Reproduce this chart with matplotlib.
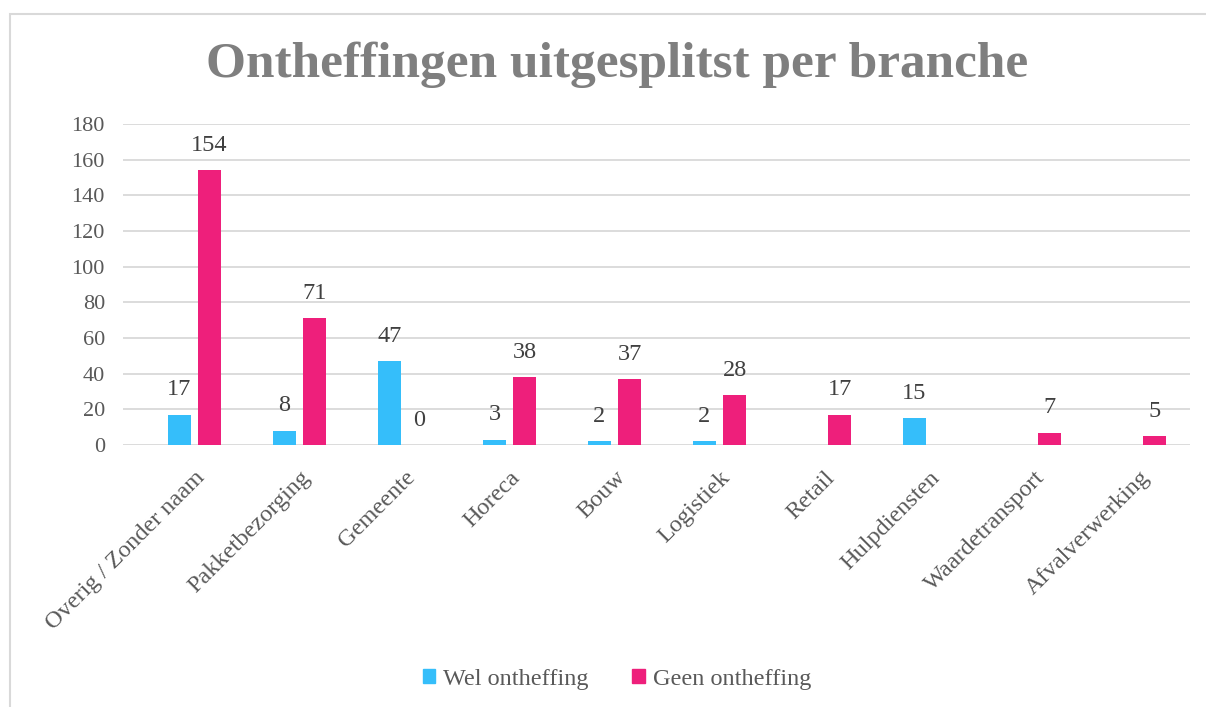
import numpy as np
import matplotlib
matplotlib.use("Agg")
import matplotlib.pyplot as plt
from matplotlib.patches import Rectangle

categories = ["Overig / Zonder naam", "Pakketbezorging", "Gemeente", "Horeca", "Bouw",
              "Logistiek", "Retail", "Hulpdiensten", "Waardetransport", "Afvalverwerking"]
# None = no bar and no label in the original
wel = [17, 8, 47, 3, 2, 2, None, 15, None, None]
geen = [154, 71, 0, 38, 37, 28, 17, None, 7, 5]
yticks = [0, 20, 40, 60, 80, 100, 120, 140, 160, 180]

blue = "#35BEFA"
pink = "#EE1F7B"
txt = "#595959"

plt.rcParams["font.family"] = ["Liberation Serif", "DejaVu Serif"]

fig = plt.figure(figsize=(12.06, 7.07), dpi=100)
fig.patches.append(Rectangle((10 / 1206, -0.01), 1.02, (707 - 14) / 707 + 0.01,
                             transform=fig.transFigure, fill=False,
                             edgecolor="#d9d9d9", lw=1.5))
ax = fig.add_axes([123 / 1206, 262 / 707, 1067 / 1206, 321 / 707])

x = np.arange(len(categories))
w = 0.22
off = 0.143
for vals, dx, col in [(wel, -off, blue), (geen, off, pink)]:
    for xi, v in zip(x, vals):
        if v is None:
            continue
        ax.bar(xi + dx, v, width=w, color=col, zorder=3)
        ax.text(xi + dx, v + 8, str(v), ha="center", va="bottom",
                fontsize=17.5, color="#404040", zorder=4)

ax.set_ylim(0, 180)
ax.set_xlim(-0.68, 9.48)
ax.set_yticks(yticks)
ax.tick_params(axis="y", length=0, labelsize=16, labelcolor=txt, pad=13)
ax.set_xticks(x)
ax.set_xticklabels(categories, rotation=45, ha="right", rotation_mode="anchor",
                   fontsize=17.5, color=txt)
ax.tick_params(axis="x", length=0, pad=16)
ax.grid(axis="y", color="#d9d9d9", lw=1.3, zorder=0)
for s in ax.spines.values():
    s.set_visible(False)

fig.text(617 / 1206, 1 - 65 / 707, "Ontheffingen uitgesplitst per branche",
         ha="center", va="center", fontsize=37, fontweight="bold", color="#7f7f7f")

handles = [Rectangle((0, 0), 1, 1, color=blue), Rectangle((0, 0), 1, 1, color=pink)]
fig.legend(handles, ["Wel ontheffing", "Geen ontheffing"], loc="center",
           bbox_to_anchor=(617 / 1206, 1 - 679 / 707), ncol=2, frameon=False,
           fontsize=17.5, labelcolor=txt, handlelength=0.5, handleheight=0.5,
           handletextpad=0.35, columnspacing=1.8)

fig.savefig("out.png", dpi=100)
